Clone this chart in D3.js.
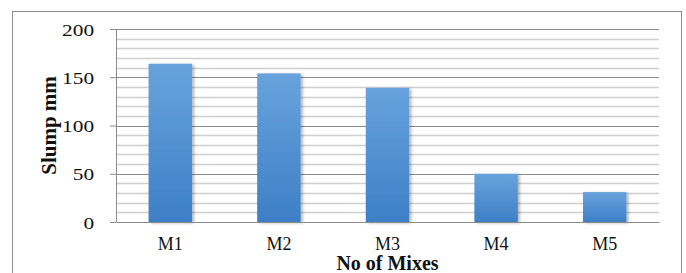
<!DOCTYPE html>
<html>
<head>
<meta charset="utf-8">
<script src="https://cdn.jsdelivr.net/npm/d3@7"></script>
<style>
  body { margin: 0; background: #fff; }
  text { font-family: "Liberation Serif", "Times New Roman", serif; fill: #111; }
</style>
</head>
<body>
<div id="chart"></div>
<script>
// slump values per mix
var mixes = ["M1", "M2", "M3", "M4", "M5"];
var slump = [164, 154, 139, 50, 31];
var yTicks = [0, 50, 100, 150, 200];

var W = 686, H = 273;
var margin = { top: 29, right: 27, bottom: 51, left: 116 },
  width = W - margin.left - margin.right,
  height = H - margin.top - margin.bottom;

var svg = d3
  .select("#chart")
  .append("svg")
  .attr("width", W)
  .attr("height", H);

// gradient + soft shadow for the bars
var defs = svg.append("defs");
var grad = defs
  .append("linearGradient")
  .attr("id", "barGrad")
  .attr("x1", 0).attr("y1", 0)
  .attr("x2", 0).attr("y2", 1);
grad.append("stop").attr("offset", "0%").attr("stop-color", "#68a3dd");
grad.append("stop").attr("offset", "100%").attr("stop-color", "#3d7fc6");

var shadow = defs
  .append("filter")
  .attr("id", "shadow")
  .attr("x", "-20%").attr("y", "-10%")
  .attr("width", "150%").attr("height", "130%");
shadow
  .append("feDropShadow")
  .attr("dx", 2).attr("dy", 1)
  .attr("stdDeviation", 1.5)
  .attr("flood-color", "#000")
  .attr("flood-opacity", 0.3);

// outer chart border (bottom edge falls outside the picture)
svg
  .append("rect")
  .attr("x", 12.5)
  .attr("y", 11.5)
  .attr("width", 669)
  .attr("height", 280)
  .attr("fill", "none")
  .attr("stroke", "#8c8c8c");

var chart = svg
  .append("g")
  .attr("transform", "translate(" + margin.left + "," + margin.top + ")");

var x = d3
  .scaleBand()
  .domain(mixes)
  .range([0, width])
  .paddingInner(0.6)
  .paddingOuter(0.3);

var y = d3.scaleLinear().domain([0, 200]).range([height, 0]);

// gridlines every 10, darker every 50
var grid = d3.range(10, 201, 10);
chart
  .selectAll(".grid")
  .data(grid)
  .enter()
  .append("line")
  .attr("x1", 0)
  .attr("x2", width)
  .attr("y1", function(d) { return Math.round(y(d)) + 0.5; })
  .attr("y2", function(d) { return Math.round(y(d)) + 0.5; })
  .attr("stroke", function(d) { return d % 50 === 0 ? "#8a8a8a" : "#cfcfcf"; })
  .attr("stroke-width", function(d) { return d % 50 === 0 ? 1 : 1.6; });

// bars
chart
  .selectAll(".bar")
  .data(slump)
  .enter()
  .append("rect")
  .attr("x", function(d, i) { return x(mixes[i]); })
  .attr("width", x.bandwidth())
  .attr("y", function(d) { return y(d); })
  .attr("height", function(d) { return height - y(d); })
  .attr("fill", "url(#barGrad)")
  .attr("filter", "url(#shadow)");

// y axis
var yAxis = chart
  .append("g")
  .call(d3.axisLeft(y).tickValues(yTicks).tickSize(6).tickPadding(12));
yAxis.select(".domain").attr("stroke", "#8a8a8a").attr("d", "M0.5,0V" + height);
yAxis.selectAll(".tick line").attr("stroke", "#8a8a8a");
yAxis
  .selectAll("text")
  .style("font-size", "17.5px")
  .attr("fill", "#111")
  .attr("transform", "scale(1.22,1)")
  .attr("dy", "0.35em");

// x axis
var xAxis = chart
  .append("g")
  .attr("transform", "translate(0," + height + ")")
  .call(d3.axisBottom(x).tickSize(0).tickPadding(15));
xAxis.select(".domain").attr("stroke", "#8a8a8a");
xAxis.selectAll("text").style("font-size", "18px").attr("fill", "#111");

// axis titles
svg
  .append("text")
  .attr("x", margin.left + width / 2)
  .attr("y", 270)
  .style("text-anchor", "middle")
  .style("font-size", "20px")
  .style("font-weight", "bold")
  .text("No of Mixes");

svg
  .append("text")
  .attr("transform", "translate(56," + (margin.top + height / 2) + ") rotate(-90)")
  .style("text-anchor", "middle")
  .style("font-size", "21px")
  .style("font-weight", "bold")
  .text("Slump mm");
</script>
</body>
</html>
